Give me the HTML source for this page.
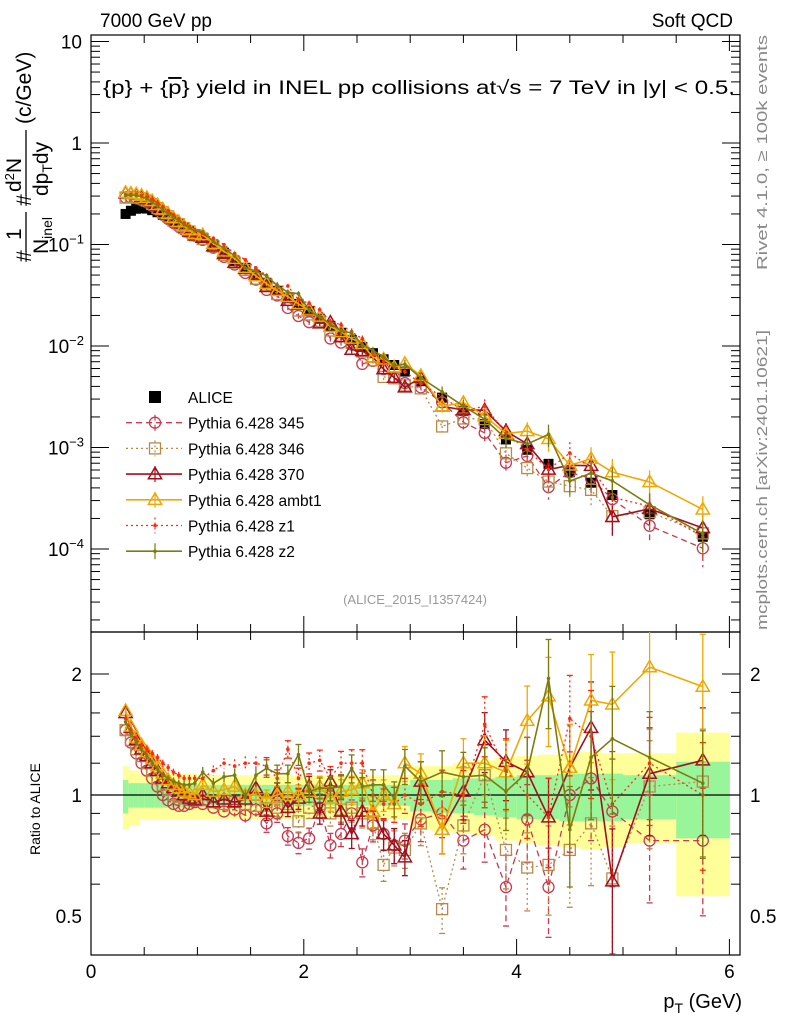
<!DOCTYPE html>
<html><head><meta charset="utf-8"><style>
html,body{margin:0;padding:0;background:#fff;}
svg{display:block;font-family:"Liberation Sans",sans-serif;}
</style></head><body>
<svg id="chart" width="786" height="1024" viewBox="0 0 786 1024" xmlns="http://www.w3.org/2000/svg">
<defs>
<clipPath id="cm"><rect x="91" y="35" width="649" height="597"/></clipPath>
<clipPath id="cr"><rect x="91" y="632" width="649" height="323"/></clipPath>
</defs>
<text x="100" y="27" font-size="19">7000 GeV pp</text>
<text x="733" y="27" font-size="19" text-anchor="end">Soft QCD</text>
<text x="103" y="94" font-size="19" textLength="632" lengthAdjust="spacingAndGlyphs">{p} + {<tspan text-decoration="overline">p</tspan>} yield in INEL pp collisions at√s =  7 TeV in |y| &lt; 0.5.</text>
<text transform="translate(767,270) rotate(-90)" font-size="15" fill="#888" textLength="235" lengthAdjust="spacingAndGlyphs">Rivet 4.1.0, ≥ 100k events</text>
<text transform="translate(767,630) rotate(-90)" font-size="15" fill="#888" textLength="300" lengthAdjust="spacingAndGlyphs">mcplots.cern.ch [arXiv:2401.10621]</text>
<text x="415" y="604" font-size="13" fill="#999" text-anchor="middle">(ALICE_2015_I1357424)</text>
<g font-size="21">
<text transform="translate(31,262) rotate(-90)">#</text>
<text transform="translate(21,240) rotate(-90)">1</text>
<line x1="26" y1="212" x2="26" y2="252" stroke="#000" stroke-width="1.3"/>
<text transform="translate(48,254) rotate(-90)">N<tspan font-size="14" dy="4">inel</tspan></text>
<text transform="translate(31,206) rotate(-90)">#</text>
<text transform="translate(21,192) rotate(-90)">d<tspan font-size="13" dy="-7">2</tspan><tspan dy="7">N</tspan></text>
<line x1="26" y1="130" x2="26" y2="196" stroke="#000" stroke-width="1.3"/>
<text transform="translate(48,196) rotate(-90)">dp<tspan font-size="14" dy="4">T</tspan><tspan dy="-4">dy</tspan></text>
<text transform="translate(31,124) rotate(-90)">(c/GeV)</text>
</g>
<text transform="translate(40,855) rotate(-90)" font-size="14">Ratio to ALICE</text>
<text x="742" y="1008" font-size="20" text-anchor="end">p<tspan font-size="14" dy="5">T</tspan><tspan dy="-5"> (GeV)</tspan></text>
<g id="bands" clip-path="url(#cr)"></g>
<g id="axes"></g>
<g id="series-main" clip-path="url(#cm)"></g>
<g id="series-ratio" clip-path="url(#cr)"></g>
<g id="legend"></g>
</svg>
<script>
const pt = [0.325,0.375,0.425,0.475,0.525,0.575,0.625,0.675,0.725,0.775,0.825,0.875,0.925,0.975,
1.05,1.15,1.25,1.35,1.45,1.55,1.65,1.75,1.85,1.95,2.05,2.15,2.25,2.35,2.45,2.55,2.65,2.75,2.85,2.95,
3.1,3.3,3.5,3.7,3.9,4.1,4.3,4.5,4.7,4.9,5.25,5.75];
const edges = [0.3,0.35,0.4,0.45,0.5,0.55,0.6,0.65,0.7,0.75,0.8,0.85,0.9,0.95,1.0,
1.1,1.2,1.3,1.4,1.5,1.6,1.7,1.8,1.9,2.0,2.1,2.2,2.3,2.4,2.5,2.6,2.7,2.8,2.9,3.0,
3.2,3.4,3.6,3.8,4.0,4.2,4.4,4.6,4.8,5.0,5.5,6.0];
const alice = [0.2,0.215,0.225,0.228,0.226,0.218,0.208,0.196,0.184,0.172,0.16,0.148,0.137,0.127,
0.117,0.1,0.083,0.069,0.059,0.049,0.042,0.035,0.03,0.026,0.022,0.0186,0.0158,0.0135,0.0115,0.0098,0.0085,0.0074,0.0065,0.0056,
0.0045,0.0031,0.0023,0.0017,0.0012,0.00095,0.00069,0.00057,0.00045,0.00034,0.00022,0.000132];
const yelUp = [1.18,1.15,1.15,1.13,1.13,1.13,1.13,1.13,1.13,1.13,1.13,1.13,1.13,1.13,
1.12,1.12,1.12,1.12,1.12,1.12,1.12,1.12,1.12,1.12,1.12,1.12,1.12,1.12,1.12,1.12,1.12,1.12,1.12,1.12,
1.18,1.18,1.2,1.22,1.24,1.25,1.26,1.27,1.28,1.27,1.27,1.43];
const yelDn = [0.82,0.84,0.84,0.87,0.87,0.87,0.87,0.87,0.87,0.87,0.87,0.87,0.87,0.87,
0.87,0.87,0.87,0.87,0.87,0.87,0.87,0.87,0.87,0.87,0.87,0.87,0.87,0.87,0.87,0.87,0.87,0.87,0.87,0.87,
0.82,0.81,0.8,0.79,0.77,0.76,0.75,0.74,0.73,0.74,0.76,0.56];
const grnUp = [1.09,1.07,1.07,1.07,1.07,1.07,1.07,1.07,1.07,1.07,1.07,1.07,1.07,1.07,
1.06,1.06,1.06,1.06,1.06,1.06,1.06,1.06,1.06,1.06,1.06,1.06,1.06,1.06,1.06,1.06,1.06,1.06,1.06,1.06,
1.09,1.09,1.1,1.1,1.11,1.12,1.12,1.13,1.13,1.13,1.12,1.21];
const grnDn = [0.9,0.93,0.93,0.93,0.93,0.93,0.93,0.93,0.93,0.93,0.93,0.93,0.93,0.93,
0.94,0.94,0.94,0.94,0.94,0.94,0.94,0.94,0.94,0.94,0.94,0.94,0.94,0.94,0.94,0.94,0.94,0.94,0.94,0.94,
0.91,0.9,0.9,0.89,0.88,0.87,0.87,0.86,0.86,0.86,0.87,0.78];
const mcErr = [0.02,0.02,0.02,0.02,0.02,0.02,0.02,0.02,0.02,0.02,0.02,0.02,0.02,0.02,
0.03,0.03,0.03,0.04,0.04,0.04,0.05,0.05,0.05,0.06,0.06,0.06,0.07,0.07,0.08,0.08,0.09,0.09,0.1,0.1,
0.12,0.13,0.15,0.17,0.2,0.22,0.25,0.28,0.3,0.35,0.3,0.35];
const r345 = [1.45,1.35,1.27,1.2,1.15,1.1,1.05,1.0,0.97,0.95,0.94,0.94,0.95,0.96,
0.95,0.93,0.91,0.92,0.89,0.92,0.85,0.9,0.79,0.76,0.78,0.93,0.75,0.8,0.9,0.68,0.84,0.8,0.75,0.77,
0.87,0.9,0.77,0.82,0.59,0.87,0.59,1.0,1.1,0.91,0.77,0.77];
const r346 = [1.45,1.37,1.3,1.25,1.2,1.15,1.1,1.06,1.03,1.0,0.99,0.98,0.98,0.97,
0.97,0.96,0.95,0.96,0.95,0.94,0.96,0.93,0.95,0.86,0.93,0.95,0.9,0.92,0.93,0.9,0.85,0.67,0.74,0.73,
0.85,0.52,0.84,1.12,0.73,0.66,0.67,0.73,0.85,0.62,1.05,1.08];
const r370 = [1.6,1.47,1.37,1.3,1.25,1.2,1.15,1.1,1.07,1.04,1.02,1.0,0.98,0.97,
1.0,0.96,0.975,0.96,0.975,1.04,0.91,1.02,0.93,0.98,1.05,0.9,1.08,0.91,0.8,0.91,0.91,0.8,0.75,0.7,
1.08,0.82,1.02,1.37,1.21,1.14,0.88,1.17,1.47,0.61,1.13,1.22];
const rAmbt1 = [1.62,1.48,1.39,1.33,1.28,1.23,1.18,1.13,1.09,1.06,1.04,1.02,1.01,1.0,
1.06,1.02,1.03,1.05,1.0,1.0,0.98,1.0,1.02,1.0,1.02,1.05,0.98,1.02,1.03,1.07,0.91,1.0,0.95,1.2,
1.13,0.82,1.2,1.2,1.14,1.53,1.76,1.17,1.72,1.68,2.08,1.86];
const rZ1 = [1.55,1.45,1.38,1.33,1.3,1.27,1.24,1.2,1.17,1.14,1.12,1.1,1.1,1.1,
1.1,1.15,1.2,1.18,1.2,1.2,1.18,1.1,1.3,1.1,1.2,1.22,1.1,1.2,1.2,1.2,1.0,0.95,0.95,1.0,
0.95,1.02,1.0,1.5,1.15,1.0,0.88,1.55,1.4,0.95,1.2,1.0];
const rZ2 = [1.52,1.42,1.35,1.3,1.25,1.2,1.16,1.12,1.1,1.08,1.07,1.06,1.06,1.07,
1.14,1.07,1.11,1.12,0.99,1.12,1.165,1.13,1.13,1.26,1.02,1.04,1.04,1.05,1.165,1.05,1.06,1.06,0.98,1.18,
1.08,1.14,1.11,1.12,1.02,1.14,1.95,0.82,1.24,1.38,1.24,1.07];
const legendLabels = ["ALICE","Pythia 6.428 345","Pythia 6.428 346","Pythia 6.428 370","Pythia 6.428 ambt1","Pythia 6.428 z1","Pythia 6.428 z2"];
const xTicks = [0,2,4,6];
const mainTickExps = [1,0,-1,-2,-3,-4];
const ratioTicks = [2,1,0.5];

const NS="http://www.w3.org/2000/svg";
const X0=91,X1=740,MT=35,MB=632,RB=955;
const px = v => 91 + v*106.4;
const my = v => 143 - Math.log10(v)*101.5;
const ry = v => 795 - Math.log2(v)*121;
function el(tag, attrs, parent){const e=document.createElementNS(NS,tag);for(const k in attrs)e.setAttribute(k,attrs[k]);parent.appendChild(e);return e;}

const series = [
 {key:'345', r:r345, color:'#c83a50', dash:'6,4', marker:'circle', lw:1.3},
 {key:'346', r:r346, color:'#b88a4a', dash:'2,3', marker:'square', lw:1.3},
 {key:'370', r:r370, color:'#a0101e', dash:'', marker:'triangle', lw:1.6},
 {key:'ambt1', r:rAmbt1, color:'#f0a800', dash:'', marker:'triangle', lw:1.6},
 {key:'z1', r:rZ1, color:'#ff2a10', dash:'2,3', marker:'dot', lw:1.3},
 {key:'z2', r:rZ2, color:'#7c7c10', dash:'', marker:'dot', lw:1.6}
];

const ax=document.getElementById('axes');
const f1=el('rect',{x:X0,y:MT,width:X1-X0,height:MB-MT,fill:'none',stroke:'#000','stroke-width':1.2},ax);


const f2=el('rect',{x:X0,y:MB,width:X1-X0,height:RB-MB,fill:'none',stroke:'#000','stroke-width':1.2},ax);


for(let t=0;t<=6.01;t+=0.5){
 const major=Math.abs(t-Math.round(t/2)*2)<1e-6;
 const L=major?16:8;
 for(const [yb,yt] of [[MB,MT],[RB,MB]]){
  el('line',{x1:px(t),x2:px(t),y1:yb,y2:yb-L,stroke:'#000'},ax);
  el('line',{x1:px(t),x2:px(t),y1:yt,y2:yt+L,stroke:'#000'},ax);
 }
}
xTicks.forEach(t=>{const tx=el('text',{x:px(t),y:978,'font-size':19,'text-anchor':'middle'},ax);tx.textContent=t;
 
 });
for(let e=-5;e<=1;e++){
 for(let m=1;m<10;m++){
  const v=m*Math.pow(10,e);const y=my(v);if(y<MT||y>MB)continue;
  const L=m===1?18:9;
  el('line',{x1:X0,x2:X0+L,y1:y,y2:y,stroke:'#000'},ax);
  el('line',{x1:X1,x2:X1-L,y1:y,y2:y,stroke:'#000'},ax);
 }
}
mainTickExps.forEach(e=>{
 const y=my(Math.pow(10,e))+7;
 const tx=el('text',{x:82,y:y,'font-size':19,'text-anchor':'end'},ax);
 
 
 if(e===1)tx.textContent='10';else if(e===0)tx.textContent='1';
 else{tx.textContent='10';const s=el('tspan',{'font-size':13,dy:-8},tx);s.textContent=String(e).replace('-','−');tx.setAttribute('x',84);}
});
[0.6,0.7,0.8,0.9,1,1.2,1.4,1.6,1.8,2].forEach(v=>{
 const y=ry(v);const L=(v===1||v===2)?18:9;
 el('line',{x1:X0,x2:X0+L,y1:y,y2:y,stroke:'#000'},ax);
 el('line',{x1:X1,x2:X1-L,y1:y,y2:y,stroke:'#000'},ax);
});
ratioTicks.forEach(v=>{
 const t1=el('text',{x:82,y:ry(v)+7,'font-size':19,'text-anchor':'end'},ax);t1.textContent=v;
 
 
 const t2=el('text',{x:750,y:ry(v)+7,'font-size':19},ax);t2.textContent=v;
 
 
});

const bg=document.getElementById('bands');
pt.forEach((p,i)=>{
 const x=px(edges[i]),w=px(edges[i+1])-x;
 const b1=el('rect',{x:x,y:ry(yelUp[i]),width:w+0.5,height:ry(yelDn[i])-ry(yelUp[i]),fill:'#ffff99'},bg);
 
 
 const b2=el('rect',{x:x,y:ry(grnUp[i]),width:w+0.5,height:ry(grnDn[i])-ry(grnUp[i]),fill:'#99f599'},bg);
 
 
});
el('line',{x1:X0,x2:X1,y1:ry(1),y2:ry(1),stroke:'#000','stroke-width':1.3},bg);

function marker(g,m,x,y,c,sz){
 if(m==='circle')return el('circle',{cx:x,cy:y,r:sz*0.5,fill:'none',stroke:c,'stroke-width':1.3},g);
 if(m==='square')return el('rect',{x:x-sz/2,y:y-sz/2,width:sz,height:sz,fill:'none',stroke:c,'stroke-width':1.3},g);
 if(m==='triangle')return el('polygon',{points:`${x},${y-sz*0.62} ${x-sz*0.6},${y+sz*0.42} ${x+sz*0.6},${y+sz*0.42}`,fill:'none',stroke:c,'stroke-width':1.5},g);
 if(m==='dot')return el('circle',{cx:x,cy:y,r:1.8,fill:c},g);
 return el('rect',{x:x-5,y:y-5,width:10,height:10,fill:c},g);
}

const gm=document.getElementById('series-main'), gr=document.getElementById('series-ratio');
const ga=el('g',{},gm);


pt.forEach((p,i)=>{
 const sq=el('rect',{x:px(p)-5,y:my(alice[i])-5,width:10,height:10,fill:'#000'},ga);
 
 
});
series.forEach(s=>{
 const gM=el('g',{},gm);
 
 
 const gR=el('g',{},gr);
 
 
 const mp=[],rp=[];
 pt.forEach((p,i)=>{
  const v=alice[i]*s.r[i];
  mp.push(px(p)+','+my(v));rp.push(px(p)+','+ry(s.r[i]));
 });
 el('polyline',{points:mp.join(' '),fill:'none',stroke:s.color,'stroke-width':s.lw,'stroke-dasharray':s.dash},gM);
 el('polyline',{points:rp.join(' '),fill:'none',stroke:s.color,'stroke-width':s.lw,'stroke-dasharray':s.dash},gR);
 pt.forEach((p,i)=>{
  const x=px(p),r=s.r[i],e=mcErr[i],v=alice[i]*r;
  el('line',{x1:x,x2:x,y1:ry(r*(1+e)),y2:ry(Math.max(r*(1-e),0.05)),stroke:s.color,'stroke-width':1.3,'stroke-dasharray':s.dash},gR);
  el('line',{x1:x,x2:x,y1:my(v*(1+e)),y2:my(Math.max(v*(1-e),1e-6)),stroke:s.color,'stroke-width':1.3,'stroke-dasharray':s.dash},gM);
  if(e>0.04){
   el('line',{x1:x-3,x2:x+3,y1:ry(r*(1+e)),y2:ry(r*(1+e)),stroke:s.color,'stroke-width':1.3},gR);
   el('line',{x1:x-3,x2:x+3,y1:ry(r*(1-e)),y2:ry(r*(1-e)),stroke:s.color,'stroke-width':1.3},gR);
  }
  const m1=marker(gM,s.marker,x,my(v),s.color,11);
  
  
  const m2=marker(gR,s.marker,x,ry(r),s.color,11);
  
  
 });
});

const lg=document.getElementById('legend');


legendLabels.forEach((lab,i)=>{
 const y=397+i*25.7;
 const g=el('g',{},lg);
 
 
 if(i===0){el('rect',{x:149,y:y-6,width:12,height:12,fill:'#000'},g);}
 else{
  const s=series[i-1];
  el('line',{x1:126,x2:182,y1:y,y2:y,stroke:s.color,'stroke-width':s.lw,'stroke-dasharray':s.dash},g);
  el('line',{x1:155,x2:155,y1:y-8,y2:y+8,stroke:s.color,'stroke-width':1.2,'stroke-dasharray':s.dash},g);
  marker(g,s.marker,155,y,s.color,11);
 }
 const t=el('text',{x:188,y:y+6,'font-size':15.5},g);t.textContent=lab;
});
</script>
</body></html>
